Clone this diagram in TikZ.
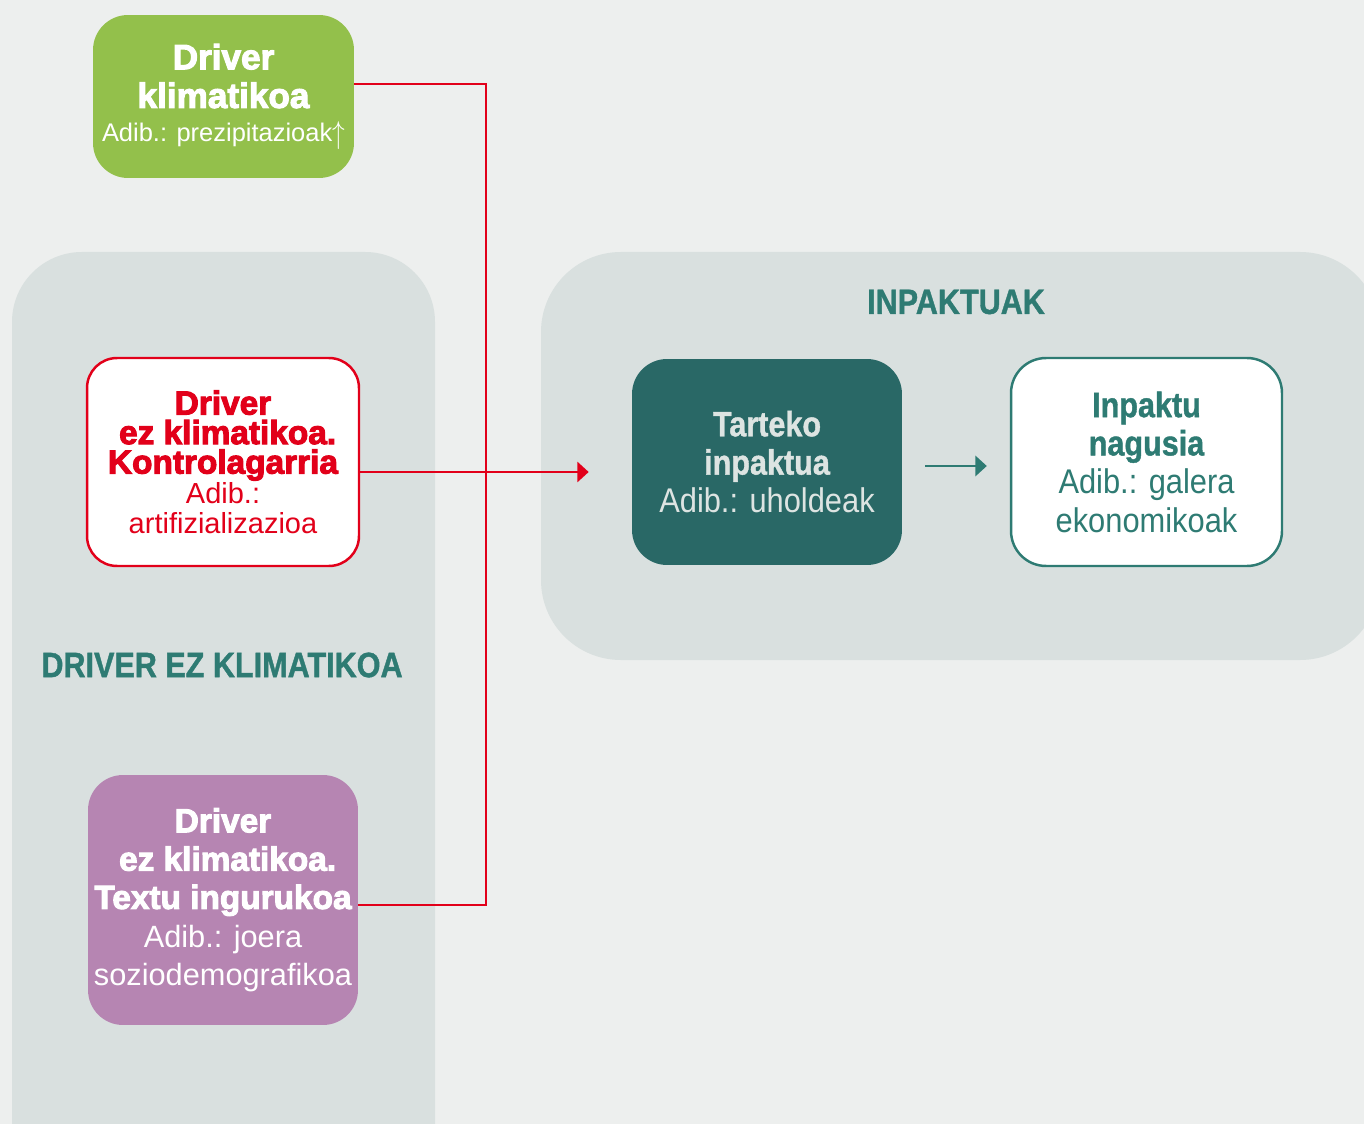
\documentclass[tikz,border=0pt]{standalone}
\usepackage{fontspec}
\setmainfont{Liberation Sans}
\newfontfamily\heavy{Liberation Sans}[BoldFeatures={FakeBold=3}]
\newfontfamily\semiheavy{Liberation Sans}[BoldFeatures={FakeBold=1.2}]
\usetikzlibrary{arrows.meta}
\definecolor{bg}{HTML}{EDEFEE}
\definecolor{panel}{HTML}{D9E0DF}
\definecolor{dgreen}{HTML}{93C04B}
\definecolor{dred}{HTML}{E2001A}
\definecolor{dpurple}{HTML}{B685B2}
\definecolor{dteal}{HTML}{296866}
\definecolor{tealtxt}{HTML}{2E7B73}
\definecolor{paletxt}{HTML}{DDE4E2}
\newcommand\cnd[2][0.87]{\scalebox{#1}[1]{#2}}
\newcommand\tightls{\lineskiplimit=-20pt\relax}
\newcommand\lite{\normalfont}
\begin{document}
\begin{tikzpicture}[x=0.02cm,y=-0.02cm,
  box/.style={rectangle, rounded corners=0.7cm, inner sep=0pt, align=center},
  redline/.style={draw=dred, line width=1.4pt},
  tip/.style={-{Triangle[length=6.5pt,width=11.5pt]}},
  lbl/.style={font=\fontsize{20}{24}\selectfont\semiheavy\bfseries, text=tealtxt, inner sep=0pt}]
\useasboundingbox (0,0) rectangle (1364,1124);
\fill[bg] (0,0) rectangle (1364,1124);
\begin{scope}
  \clip (0,0) rectangle (1364,1124);
  \fill[panel, rounded corners=1.4cm] (12,252) rectangle (435,1220);
  \fill[panel, rounded corners=1.6cm] (541,252) rectangle (1380,660);
\end{scope}

\node[lbl] (lblimp) at (956,302) {\cnd{INPAKTUAK}};
\node[lbl] (lbldrv) at (222,665) {\cnd{DRIVER EZ KLIMATIKOA}};

\node[box, fill=dgreen, minimum width=5.22cm, minimum height=3.26cm, text=white,
  font=\fontsize{20}{22}\selectfont\heavy\bfseries\tightls] (green) at (223.5,96.5)
  {Driver\\klimatikoa\\[-3pt]{\lite\fontsize{14.5}{17}\selectfont Adib.: prezipitazioak\raisebox{-1pt}{\scalebox{1}[1.25]{$\uparrow$}}}};

\node[box, rounded corners=0.6cm, fill=white, draw=dred, line width=1.4pt, minimum width=5.44cm, minimum height=4.16cm, text=dred,
  font=\fontsize{19}{16.8}\selectfont\heavy\bfseries\tightls] (redbox) at (223,462)
  {Driver\\\ ez klimatikoa.\\Kontrolagarria\\[0.4pt]{\lite\fontsize{16.5}{16.5}\selectfont Adib.:}\\{\lite\fontsize{16.5}{16.5}\selectfont artifizializazioa}};

\node[box, fill=dpurple, minimum width=5.4cm, minimum height=5.0cm, text=white,
  font=\fontsize{19}{21.8}\selectfont\heavy\bfseries\tightls] (purple) at (223,900)
  {Driver\\\ ez klimatikoa.\\Textu ingurukoa\\{\lite\fontsize{17.5}{21.8}\selectfont Adib.: joera}\\{\lite\fontsize{17.5}{21.8}\selectfont soziodemografikoa}};

\node[box, fill=dteal, minimum width=5.4cm, minimum height=4.12cm, text=paletxt,
  font=\fontsize{20}{21.8}\selectfont\semiheavy\bfseries\tightls] (tarteko) at (767,462)
  {\cnd{Tarteko}\\\cnd{inpaktua}\\{\lite\fontsize{19.5}{21.8}\selectfont\cnd[0.9]{Adib.: uholdeak}}};

\node[box, fill=white, draw=tealtxt, line width=1.4pt, minimum width=5.42cm, minimum height=4.16cm, text=tealtxt,
  font=\fontsize{20}{21.8}\selectfont\semiheavy\bfseries\tightls] (nagusia) at (1146.5,462)
  {\cnd{Inpaktu}\\\cnd{nagusia}\\{\lite\fontsize{19.5}{21.8}\selectfont\cnd[0.9]{Adib.: galera}}\\{\lite\fontsize{19.5}{21.8}\selectfont\cnd[0.9]{ekonomikoak}}};

\coordinate (j1) at (486,84);
\coordinate (j2) at (486,905);
\draw[redline] (green.east |- j1) -- (j1) -- (j2) -- (purple.east |- j2);
\draw[redline, tip, shorten >=0.86cm] ([yshift=-0.2cm]redbox.east) -- ([yshift=-0.2cm]tarteko.west);
\draw[draw=tealtxt, line width=1.4pt, tip, shorten <=0.46cm, shorten >=0.46cm] ([yshift=-0.08cm]tarteko.east) -- ([yshift=-0.08cm]nagusia.west);
\end{tikzpicture}
\end{document}
